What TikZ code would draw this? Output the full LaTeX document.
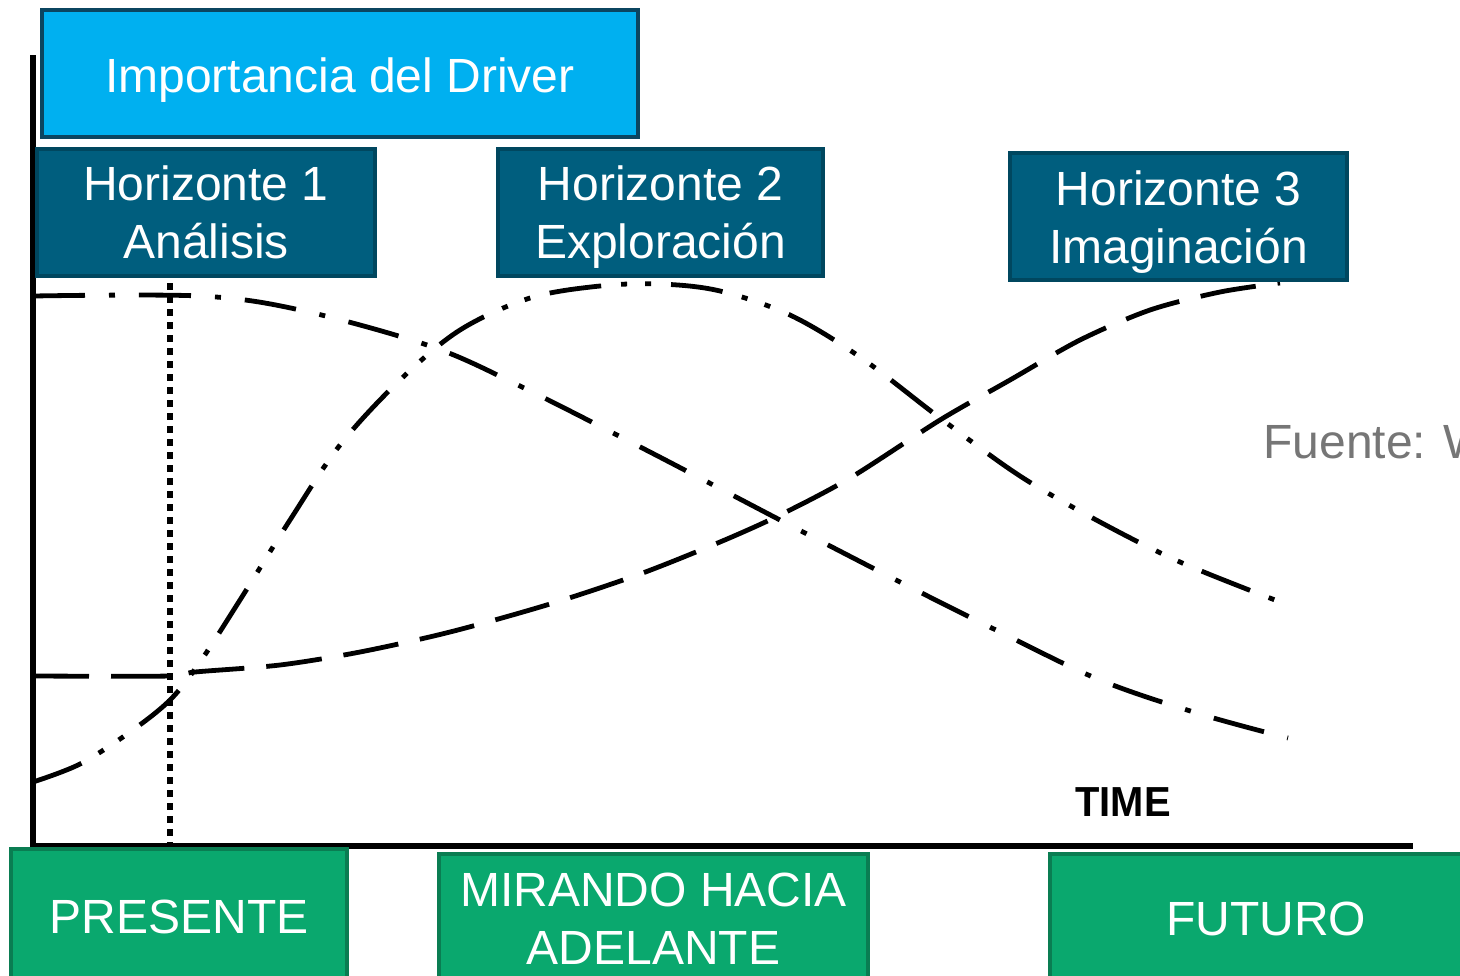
\documentclass[tikz,border=0pt]{standalone}
\usepackage{fontspec}
\setmainfont{Liberation Sans}
\definecolor{drvfill}{HTML}{00B0F0}
\definecolor{drvline}{HTML}{0B4560}
\definecolor{hzfill}{HTML}{005E7E}
\definecolor{hzline}{HTML}{00475F}
\definecolor{grfill}{HTML}{0AA86E}
\definecolor{grline}{HTML}{0A7D52}
\definecolor{srcgray}{HTML}{767676}
\begin{document}
\begin{tikzpicture}[x=0.5pt,y=-0.5pt,
  boxbase/.style={draw, line width=2pt, rectangle, inner sep=0pt},
  drvbox/.style={boxbase, fill=drvfill, draw=drvline},
  hzbox/.style={boxbase, fill=hzfill, draw=hzline},
  grbox/.style={boxbase, fill=grfill, draw=grline},
  boxtext/.style={text=white, align=center, inner sep=0pt, font=\fontsize{24}{29}\selectfont},
  axisline/.style={line width=2.8pt, black},
  declcurve/.style={line width=2.4pt, dash pattern=on 26pt off 12pt on 3pt off 12pt},
  bellcurve/.style={line width=2.4pt, dash pattern=on 26pt off 10pt on 3pt off 9pt on 3pt off 10pt},
  scurve/.style={line width=2.4pt, dash pattern=on 28pt off 11pt},
  nowline/.style={line width=3.2pt, dash pattern=on 3.5pt off 3pt}
]
\useasboundingbox (0,0) rectangle (1460,975);
\fill[white] (0,0) rectangle (1460,975);

% axes
\coordinate (ytop) at (33,55);
\coordinate (orig) at (33,846);
\coordinate (xend) at (1413,846);
\draw[axisline] (ytop) -- (orig) -- (xend);

% present line
\coordinate (nowtop) at (170,283);
\coordinate (nowbot) at (170,843);
\draw[nowline] (nowtop) -- (nowbot);

% curves
\draw[declcurve] plot[smooth, tension=0.55] coordinates {(33,296) (200,296) (300,310) (430,346) (520,386) (650,452) (780,520) (900,582) (1000,632) (1100,680) (1200,714) (1288,738)};
\draw[bellcurve] plot[smooth, tension=0.55] coordinates {(33,782) (80,764) (130,732) (170,700) (200,662) (240,600) (290,520) (340,445) (400,380) (460,330) (530,298) (600,286) (660,284) (720,291) (790,315) (860,357) (940,418) (1020,476) (1100,522) (1180,562) (1275,600)};
\draw[scurve] plot[smooth, tension=0.5] coordinates {(33,676) (170,676) (195,672) (280,665) (360,652) (450,632) (550,604) (640,574) (720,542) (780,515) (850,478) (940,420) (1010,380) (1080,340) (1150,310) (1220,292) (1280,283)};

% boxes
\node[drvbox, minimum width=298pt, minimum height=63.5pt] (driver) at (340,73.5) {};
\node[boxtext, yshift=-3.5pt] (drivertext) at (driver.center) {Importancia del Driver};
\node[hzbox, minimum width=169pt, minimum height=63.5pt] (h1) at (206,212.5) {};
\node[boxtext] (h1text) at (h1.center) {Horizonte 1\\Análisis};
\node[hzbox, minimum width=162.5pt, minimum height=63.5pt] (h2) at (660.5,212.5) {};
\node[boxtext, yshift=-2.5pt] (h2text) at (h2.center) {Horizonte 2\\Exploración};
\node[hzbox, minimum width=168.5pt, minimum height=63.5pt] (h3) at (1178.5,216.5) {};
\node[boxtext, yshift=-3pt] (h3text) at (h3.center) {Horizonte 3\\Imaginación};

\node[grbox, minimum width=168pt, minimum height=68pt] (presente) at (179,917) {};
\node[boxtext] (presentetext) at (presente.center) {PRESENTE};
\node[grbox, minimum width=214.5pt, minimum height=65pt] (mirando) at (653.5,919) {};
\node[boxtext] (mirandotext) at (mirando.center) {MIRANDO HACIA\\ADELANTE};
\node[grbox, minimum width=216pt, minimum height=65pt] (futuro) at (1266,919) {};
\node[boxtext] (futurotext) at (futuro.center) {FUTURO};

% labels
\node[anchor=west, inner sep=0pt, font=\fontsize{21}{24}\selectfont\bfseries] (time) at (1075,802) {\scalebox{0.95}[1]{TIME}};
\node[anchor=west, inner sep=0pt, text=srcgray, font=\fontsize{24}{29}\selectfont] (fuente) at (1263,442) {Fuente: W};
\end{tikzpicture}
\end{document}
